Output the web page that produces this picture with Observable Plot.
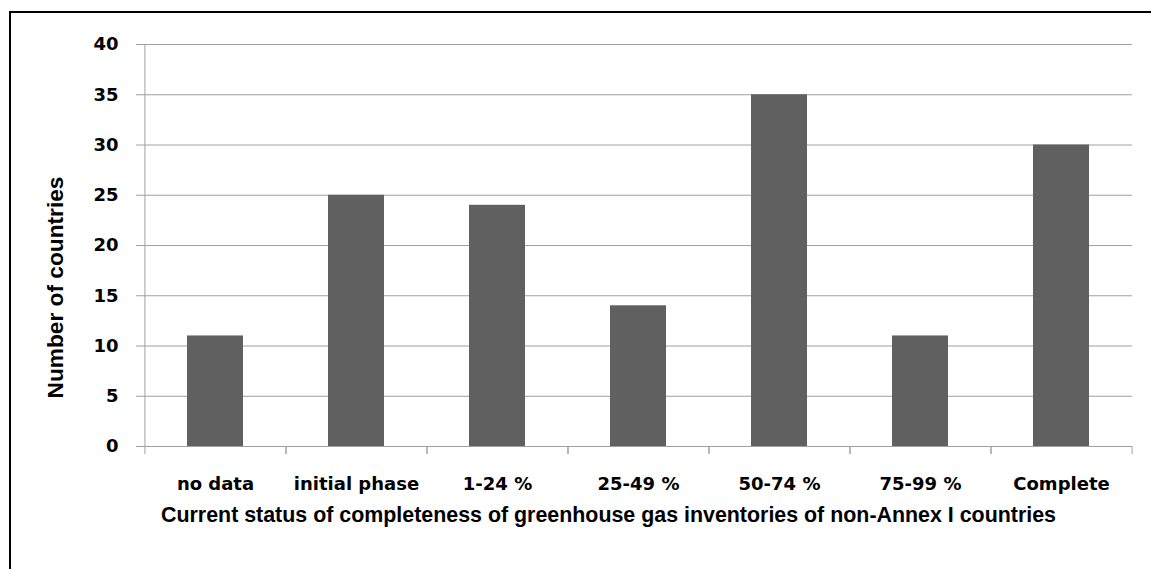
<!DOCTYPE html>
<html><head><meta charset="utf-8">
<script src="https://cdn.jsdelivr.net/npm/d3@7"></script>
<script src="https://cdn.jsdelivr.net/npm/@observablehq/plot@0.6"></script>
<style>
body{margin:0;background:#fff}
#wrap{position:relative;width:1151px;height:569px;overflow:hidden}
#wrap svg{position:absolute;left:0;top:0}
.b{position:absolute;background:#000}
</style>
</head><body>
<div id="wrap"></div>
<script>
const categories = ["no data", "initial phase", "1-24 %", "25-49 %", "50-74 %", "75-99 %", "Complete"];
const counts = [11, 25, 24, 14, 35, 11, 30];
const yTicks = [0, 5, 10, 15, 20, 25, 30, 35, 40];
const xTitle = "Current status of completeness of greenhouse gas inventories of non-Annex I countries";
const yTitle = "Number of countries";

const data = categories.map((c, i) => ({category: c, count: counts[i]}));

const W = 1151, H = 569, mL = 144, mR = 19, mT = 44, mB = 123;
const step = (W - mL - mR) / categories.length;
const grid = "#a0a0a0";
const labelFont = "DejaVu Sans";
const titleFont = "Liberation Sans, Arial, sans-serif";

const chart = Plot.plot({
  width: W, height: H,
  marginLeft: mL, marginRight: mR, marginTop: mT, marginBottom: mB,
  style: {fontFamily: labelFont, background: "transparent", color: "#000"},
  x: {domain: categories, paddingInner: 0.6, paddingOuter: 0.3},
  y: {domain: [0, 40]},
  marks: [
    Plot.gridY(yTicks, {stroke: grid, strokeOpacity: 1}),
    Plot.ruleX([categories[0]], {x: d => d, dx: -step / 2, y1: 0, y2: 40, stroke: grid}),
    Plot.axisX({tickSize: 8, tickFormat: () => "", dx: -step / 2, stroke: grid, label: null}),
    Plot.axisX({tickSize: 8, tickFormat: () => "", dx: step / 2, stroke: grid, label: null}),
    Plot.barY(data, {x: "category", y: "count", fill: "#606060"}),
    Plot.axisY(yTicks, {tickSize: 8, tickPadding: 18, stroke: grid, fill: "#000", fontSize: 18, fontWeight: "bold", label: null}),
    Plot.axisX({tickSize: 0, tickPadding: 31, fill: "#000", fontSize: 18, fontWeight: "bold", label: null}),
    Plot.text([xTitle], {text: d => d, frameAnchor: "bottom", textAnchor: "middle", dx: -30, dy: 69, lineAnchor: "middle", fontSize: 21.4, fontWeight: "bold", fontFamily: titleFont, fill: "#000"}),
    Plot.text([yTitle], {text: d => d, frameAnchor: "left", textAnchor: "middle", dx: -89, dy: 42, rotate: -90, lineAnchor: "middle", fontSize: 22.7, fontWeight: "bold", fontFamily: titleFont, fill: "#000"})
  ]
});

const wrap = document.getElementById("wrap");
wrap.appendChild(chart);
const borderTop = document.createElement("div");
borderTop.className = "b";
borderTop.style.cssText = "left:9px;top:11px;width:1142px;height:2px";
const borderLeft = document.createElement("div");
borderLeft.className = "b";
borderLeft.style.cssText = "left:9px;top:11px;width:2px;height:558px";
wrap.appendChild(borderTop);
wrap.appendChild(borderLeft);
</script>
</body></html>
